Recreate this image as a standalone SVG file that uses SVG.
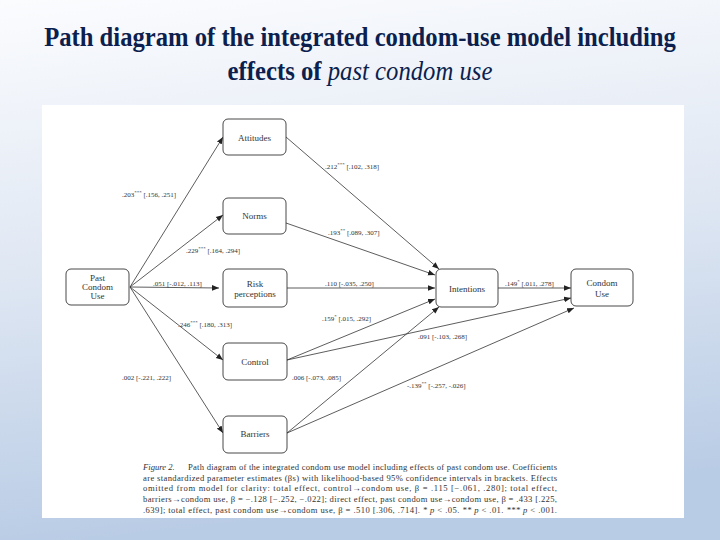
<svg xmlns="http://www.w3.org/2000/svg" width="720" height="540" viewBox="0 0 720 540">
<defs>
<linearGradient id="bg" x1="0" y1="0" x2="0.15" y2="1">
<stop offset="0" stop-color="#fbfcfe"/>
<stop offset="0.5" stop-color="#dfe7f3"/>
<stop offset="1" stop-color="#b9cce5"/>
</linearGradient>
<marker id="ah" viewBox="0 0 10 10" refX="10" refY="5" markerWidth="7" markerHeight="7" markerUnits="userSpaceOnUse" orient="auto">
<path d="M0,1 L10,5 L0,9 z" fill="#222"/>
</marker>
<style>
.node rect{fill:#fff;stroke:#333;stroke-width:0.9}
.nt{font-family:"Liberation Serif",serif;font-size:9px;fill:#333;text-anchor:middle}
.lb{font-family:"Liberation Serif",serif;font-size:7px;fill:#333}
.sup{font-size:5px}
.edge{stroke:#333;stroke-width:0.8;fill:none;marker-end:url(#ah)}
.cap{font-family:"Liberation Serif",serif;font-size:8.6px;fill:#333}
.title{font-family:"Liberation Serif",serif;font-size:27px;font-weight:bold;fill:#0c1f4e;text-anchor:middle}
</style>
</defs>
<rect x="0" y="0" width="720" height="540" fill="url(#bg)"/>
<text class="title" transform="translate(360,46) scale(0.83,1)" x="0" y="0" textLength="761" lengthAdjust="spacingAndGlyphs">Path diagram of the integrated condom-use model including</text>
<text class="title" transform="translate(360,80) scale(0.83,1)" x="0" y="0" textLength="319" lengthAdjust="spacingAndGlyphs">effects of <tspan font-style="italic" font-weight="normal">past condom use</tspan></text>
<rect x="42" y="105" width="642" height="413" fill="#ffffff"/>

<g id="connectors">
<line class="edge" x1="130" y1="287" x2="223" y2="137"/>
<line class="edge" x1="130" y1="287" x2="223" y2="215"/>
<line class="edge" x1="130" y1="287" x2="219" y2="288"/>
<line class="edge" x1="130" y1="287" x2="223" y2="360"/>
<line class="edge" x1="130" y1="287" x2="223" y2="433"/>
<line class="edge" x1="286" y1="137" x2="439" y2="269"/>
<line class="edge" x1="286" y1="223" x2="435" y2="275"/>
<line class="edge" x1="287" y1="288" x2="435" y2="288"/>
<line class="edge" x1="287" y1="360" x2="435" y2="299"/>
<line class="edge" x1="287" y1="360" x2="571" y2="298"/>
<line class="edge" x1="287" y1="433" x2="439" y2="307"/>
<line class="edge" x1="287" y1="433" x2="574" y2="308"/>
<line class="edge" x1="498" y1="288" x2="571" y2="288"/>
</g>

<g id="edge-labels">
<text class="lb" x="122" y="197">.203<tspan class="sup" dy="-3">***</tspan><tspan dy="3"> [.156, .251]</tspan></text>
<text class="lb" x="186" y="253">.229<tspan class="sup" dy="-3">***</tspan><tspan dy="3"> [.164, .294]</tspan></text>
<text class="lb" x="153" y="286">.051 [-.012, .113]</text>
<text class="lb" x="178" y="327">.246<tspan class="sup" dy="-3">***</tspan><tspan dy="3"> [.180, .313]</tspan></text>
<text class="lb" x="122" y="380">.002 [-.221, .222]</text>
<text class="lb" x="325" y="169">.212<tspan class="sup" dy="-3">***</tspan><tspan dy="3"> [.102, .318]</tspan></text>
<text class="lb" x="328" y="235">.193<tspan class="sup" dy="-3">**</tspan><tspan dy="3"> [.089, .307]</tspan></text>
<text class="lb" x="325" y="286">.110 [-.035, .250]</text>
<text class="lb" x="322" y="321">.159<tspan class="sup" dy="-3">*</tspan><tspan dy="3"> [.015, .292]</tspan></text>
<text class="lb" x="418" y="339">.091 [-.103, .268]</text>
<text class="lb" x="292" y="380">.006 [-.073, .085]</text>
<text class="lb" x="407" y="388">-.139<tspan class="sup" dy="-3">**</tspan><tspan dy="3"> [-.257, -.026]</tspan></text>
<text class="lb" x="505" y="286">.149<tspan class="sup" dy="-3">*</tspan><tspan dy="3"> [.011, .278]</tspan></text>
</g>

<g id="node-past" class="node">
<rect x="66" y="269" width="63" height="36" rx="5"/>
<text class="nt" x="97.5" y="281" font-size="7.5">Past</text>
<text class="nt" x="97.5" y="290" font-size="7.5">Condom</text>
<text class="nt" x="97.5" y="299" font-size="7.5">Use</text>
</g>
<g id="node-attitudes" class="node">
<rect x="223" y="119" width="63" height="36" rx="5"/>
<text class="nt" x="254.5" y="141">Attitudes</text>
</g>
<g id="node-norms" class="node">
<rect x="223" y="198" width="63" height="36" rx="5"/>
<text class="nt" x="254.5" y="219">Norms</text>
</g>
<g id="node-risk" class="node">
<rect x="223" y="269" width="64" height="38" rx="5"/>
<text class="nt" x="255" y="287">Risk</text>
<text class="nt" x="255" y="297">perceptions</text>
</g>
<g id="node-control" class="node">
<rect x="223" y="343" width="64" height="37" rx="5"/>
<text class="nt" x="255" y="365">Control</text>
</g>
<g id="node-barriers" class="node">
<rect x="223" y="416" width="64" height="37" rx="5"/>
<text class="nt" x="255" y="437">Barriers</text>
</g>
<g id="node-intentions" class="node">
<rect x="436" y="269" width="62" height="38" rx="5"/>
<text class="nt" x="467" y="292" font-size="9.5">Intentions</text>
</g>
<g id="node-condom" class="node">
<rect x="571" y="269" width="62" height="37" rx="5"/>
<text class="nt" x="602" y="286" font-size="9.5">Condom</text>
<text class="nt" x="602" y="297" font-size="9.5">Use</text>
</g>

<g id="caption">
<text class="cap" x="143" y="470" font-style="italic">Figure 2.</text>
<text class="cap" x="188" y="470" textLength="369" lengthAdjust="spacing">Path diagram of the integrated condom use model including effects of past condom use. Coefficients</text>
<text class="cap" x="143" y="481" textLength="414" lengthAdjust="spacing">are standardized parameter estimates (βs) with likelihood-based 95% confidence intervals in brackets. Effects</text>
<text class="cap" x="143" y="491" textLength="414" lengthAdjust="spacing">omitted from model for clarity: total effect, control→condom use, β = .115 [−.061, .280]; total effect,</text>
<text class="cap" x="143" y="502" textLength="414" lengthAdjust="spacing">barriers→condom use, β = −.128 [−.252, −.022]; direct effect, past condom use→condom use, β = .433 [.225,</text>
<text class="cap" x="143" y="513" textLength="414" lengthAdjust="spacing">.639]; total effect, past condom use→condom use, β = .510 [.306, .714]. <tspan font-style="italic">* p</tspan> &lt; .05. <tspan font-style="italic">** p</tspan> &lt; .01. <tspan font-style="italic">*** p</tspan> &lt; .001.</text>
</g>
</svg>
